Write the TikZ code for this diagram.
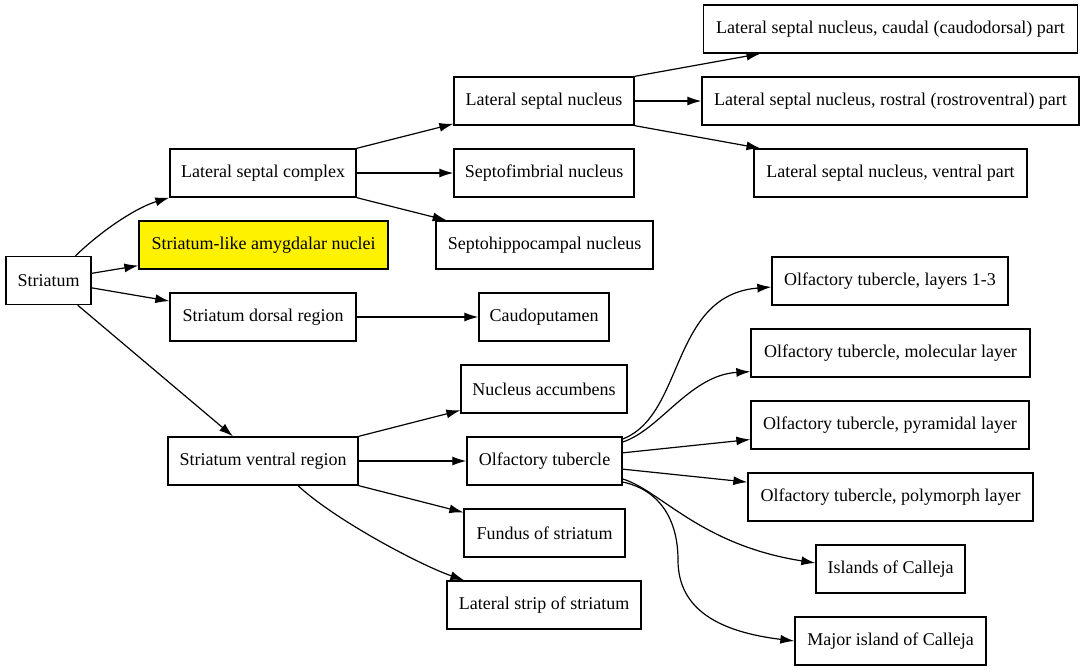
\documentclass[tikz,border=0pt]{standalone}
\usepackage{fontspec}
\setmainfont{Liberation Serif}
\usetikzlibrary{calc, arrows.meta, positioning}
\tikzset{
    box/.style ={rectangle, draw, line width=1.3pt, minimum height=48pt, inner sep=0pt, font=\fontsize{18}{21}\selectfont}, % every box has the same height, the width is given per node
    arr/.style = {-{Latex[length=14pt,width=9pt]}, line width=1.2pt}
}
\begin{document}
\begin{tikzpicture}[x=1pt, y=-1pt]
            \useasboundingbox (0,0) rectangle (1085,671);
            % left column
            \node[box, minimum width=85pt] (str) at (48.5,280.5) {Striatum};
            \node[box, minimum width=186pt] (lsc) at (263,173) {Lateral septal complex};
            \node[box, minimum width=249pt, fill=yellow] (sla) at (263.5,245) {Striatum-like amygdalar nuclei};
            \node[box, minimum width=186pt] (sdr) at (263,317) {Striatum dorsal region};
            \node[box, minimum width=190pt] (svr) at (263,461) {Striatum ventral region};
            % middle column
            \node[box, minimum width=180pt] (lsn) at (544,101) {Lateral septal nucleus};
            \node[box, minimum width=180pt] (sfn) at (544,173) {Septofimbrial nucleus};
            \node[box, minimum width=217pt] (shn) at (544.5,245) {Septohippocampal nucleus};
            \node[box, minimum width=130pt] (cp) at (544,317) {Caudoputamen};
            \node[box, minimum width=166pt] (nac) at (544,389) {Nucleus accumbens};
            \node[box, minimum width=155pt] (ot) at (544.5,461) {Olfactory tubercle};
            \node[box, minimum width=161pt] (fs) at (544.5,533) {Fundus of striatum};
            \node[box, minimum width=194pt] (lss) at (544,605) {Lateral strip of striatum};
            % right column
            \node[box, minimum width=374pt] (lsnc) at (890.5,29) {Lateral septal nucleus, caudal (caudodorsal) part};
            \node[box, minimum width=377pt] (lsnr) at (890.5,101) {Lateral septal nucleus, rostral (rostroventral) part};
            \node[box, minimum width=273pt] (lsnv) at (890.5,173) {Lateral septal nucleus, ventral part};
            \node[box, minimum width=236pt] (ot13) at (890,281) {Olfactory tubercle, layers 1-3};
            \node[box, minimum width=279pt] (otm) at (890.5,353) {Olfactory tubercle, molecular layer};
            \node[box, minimum width=278pt] (otp) at (890,425) {Olfactory tubercle, pyramidal layer};
            \node[box, minimum width=285pt] (otpm) at (890.5,497) {Olfactory tubercle, polymorph layer};
            \node[box, minimum width=149pt] (ic) at (890.5,569) {Islands of Calleja};
            \node[box, minimum width=191pt] (mic) at (890.5,641) {Major island of Calleja};
            % edges
            \draw[arr] ($(str.north)+(27,0)$) .. controls (100,232) and (135,208) .. (lsc.south west);
            \path[arr] (str) edge (sla);
            \path[arr] (str) edge (sdr);
            \draw[arr] (str) -- ($(svr.north)+(-30,0)$);
            \path[arr] (lsc.north east) edge (lsn);
            \path[arr] (lsc) edge (sfn);
            \path[arr] (lsc.south east) edge (shn);
            \path[arr] (lsn.north east) edge ($(lsnc.south)+(-130,0)$);
            \path[arr] (lsn) edge (lsnr);
            \path[arr] (lsn.south east) edge ($(lsnv.north)+(-130,0)$);
            \path[arr] (sdr) edge (cp);
            \path[arr] (svr.north east) edge (nac);
            \path[arr] (svr) edge (ot);
            \path[arr] (svr.south east) edge (fs);
            \draw[arr] ($(svr.south)+(35,0)$) .. controls (335,520) and (420,565) .. ($(lss.north west)+(18,0)$);
            \draw[arr] ($(ot.east)+(0,-22)$) .. controls (685,415) and (670,295) .. ($(ot13.west)+(0,6)$);
            \draw[arr] ($(ot.east)+(0,-19)$) .. controls (660,430) and (690,375) .. ($(otm.south west)+(0,-6)$);
            \path[arr] (ot) edge (otp);
            \path[arr] (ot) edge (otpm);
            \draw[arr] ($(ot.east)+(0,18)$) .. controls (660,490) and (700,545) .. ($(ic.west)+(0,-6)$);
            \draw[arr] ($(ot.east)+(0,21)$) .. controls (660,490) and (678,520) .. (678,560) .. controls (678,610) and (720,632) .. (mic.west);
        \end{tikzpicture}
\end{document}
